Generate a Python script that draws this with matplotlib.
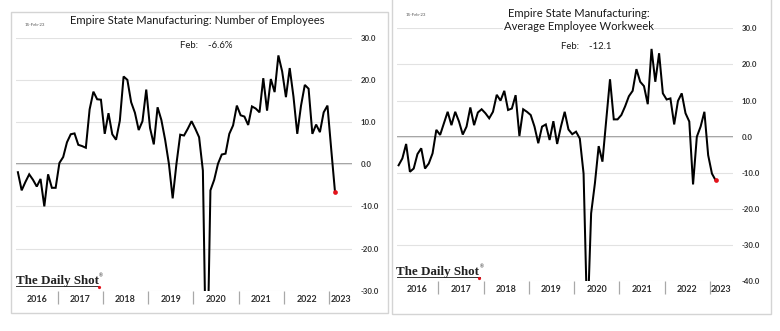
import numpy as np
import pandas as pd
import matplotlib
matplotlib.use("Agg")
import matplotlib.pyplot as plt
from matplotlib.lines import Line2D
from matplotlib.patches import Rectangle

# ---------------- data ----------------
dates = pd.date_range("2016-02-01", "2023-02-01", freq="MS")

employees = [
    -1.9, -6.2, -4.2, -2.4, -3.7, -5.3, -3.5, -10.0, -2.4, -5.6, -5.6,          # 2016 Feb-Dec
    0.3, 1.7, 5.2, 7.1, 7.3, 4.6, 4.3, 3.9, 13.0, 17.2, 15.4, 15.3,              # 2017
    7.2, 12.1, 7.1, 5.8, 10.3, 20.8, 20.0, 14.7, 12.2, 8.1, 10.2, 17.7,          # 2018
    8.6, 4.7, 13.5, 10.5, 5.8, 0.1, -8.1, 0.1, 7.0, 6.8, 8.4, 10.2,              # 2019
    8.4, 6.4, -1.5, -55.8, -6.2, -3.7, 0.1, 2.3, 2.5, 7.2, 9.2, 13.9,            # 2020
    11.6, 11.3, 9.3, 13.7, 13.2, 12.3, 20.4, 12.7, 20.2, 17.1, 25.8, 22.0,       # 2021
    15.9, 22.8, 16.0, 7.2, 13.9, 18.8, 17.9, 7.2, 9.4, 7.6, 12.3, 13.9,          # 2022
    3.5, -6.6,                                                                    # 2023
]

workweek = [
    -7.9, -6.0, -2.0, -9.7, -8.8, -4.8, -3.2, -8.8, -7.4, -4.6, 1.9,             # 2016 Feb-Dec
    0.5, 3.7, 6.9, 3.2, 6.9, 4.2, 0.6, 2.8, 8.1, 3.2, 6.7, 7.6,                  # 2017
    6.5, 5.1, 6.9, 11.6, 10.0, 12.7, 7.4, 7.8, 11.5, 0.2, 7.6, 6.9,              # 2018
    6.0, 2.8, -1.8, 2.8, 3.4, -0.9, 4.3, -2.0, 2.8, 6.9, 2.0, 0.7,               # 2019
    1.4, -0.5, -10.2, -52.6, -21.2, -12.9, -2.6, -6.9, 4.6, 15.9, 4.8, 4.8,      # 2020
    6.0, 8.4, 11.2, 12.7, 18.7, 15.2, 14.0, 9.0, 24.3, 15.2, 23.1, 12.0,         # 2021
    10.3, 10.6, 3.4, 9.9, 12.0, 6.5, 4.2, -13.2, 0.0, 2.8, 6.9, -5.1,            # 2022
    -10.2, -12.1,                                                                 # 2023
]

year_labels = ["2016", "2017", "2018", "2019", "2020", "2021", "2022", "2023"]
left_yticks = [-30, -20, -10, 0, 10, 20, 30]
right_yticks = [-40, -30, -20, -10, 0, 10, 20, 30]

left_title = "Empire State Manufacturing: Number of Employees"
right_title = "Empire State Manufacturing:\nAverage Employee Workweek"
left_note = "Feb:    -6.6%"
right_note = "Feb:    -12.1"
date_stamp = "15-Feb-23"
logo_text = "The Daily Shot"

# ---------------- layout helpers ----------------
W, H = 780, 331
SANS = ["Lato", "DejaVu Sans"]
SERIF = ["Liberation Serif", "DejaVu Serif"]

fig = plt.figure(figsize=(W / 100, H / 100), dpi=100)
fig.patch.set_facecolor("white")


def fx(x):
    return x / W


def fy(y):
    return 1 - y / H


# month position: index of month since Jan 2016, centered in its slot
xpos = np.array([(d.year - 2016) * 12 + (d.month - 1) + 0.5 for d in dates])
year_start = np.array([(int(y) - 2016) * 12 for y in year_labels])
seg_lo = np.maximum(year_start, 1)
seg_hi = np.minimum(year_start + 12, 90)
year_centers = (seg_lo + seg_hi) / 2.0


def make_panel(frame, axbox, ylim, yticks, values, ypad):
    x0, y0, x1, y1 = frame
    fig.patches.append(Rectangle((fx(x0), fy(y1)), (x1 - x0) / W, (y1 - y0) / H,
                                 transform=fig.transFigure, fill=False,
                                 edgecolor="#d4d4d4", lw=1.0, zorder=0))
    a0, t0, a1, b0 = axbox
    ax = fig.add_axes([fx(a0), fy(b0), (a1 - a0) / W, (b0 - t0) / H])
    ax.set_facecolor("none")
    for s in ax.spines.values():
        s.set_visible(False)
    ax.set_xlim(1, 90)
    ax.set_ylim(*ylim)
    ax.set_yticks(yticks)
    ax.set_yticklabels([f"{v:.1f}" for v in yticks])
    ax.yaxis.tick_right()
    ax.tick_params(axis="y", length=0, pad=ypad, labelsize=5.6, labelcolor="#333333")
    for lab in ax.get_yticklabels():
        lab.set_fontweight("bold")
        lab.set_family(SANS)
    ax.grid(axis="y", color="#e2e2e2", lw=0.8, zorder=0)
    ax.axhline(0, color="#888888", lw=1.1, zorder=1)
    # x axis: separators at year boundaries, labels centered in segments
    ax.set_xticks(year_start[1:])
    ax.set_xticklabels([])
    ax.tick_params(axis="x", which="major", direction="out", length=9.5,
                   width=0.9, color="#a8a8a8")
    ax.set_xticks(year_centers, minor=True)
    ax.set_xticklabels(year_labels, minor=True)
    ax.tick_params(axis="x", which="minor", length=0, pad=3.0, labelsize=6.4,
                   labelcolor="#2e2e2e")
    for lab in ax.get_xticklabels(minor=True):
        lab.set_fontweight("bold")
        lab.set_family(SANS)
    ax.plot(xpos, values, color="black", lw=1.45, zorder=3, solid_joinstyle="miter")
    ax.plot(xpos[-1], values[-1], "o", color="#e3121b", ms=3.4, zorder=4,
            markeredgewidth=0, clip_on=False)
    return ax


axL = make_panel((11, 12, 388, 313), (16, 37.7, 352, 290.7), (-30, 30),
                 left_yticks, employees, 6.0)
axR = make_panel((392, -2, 771, 314), (396.7, 28.3, 732.7, 281.3), (-40, 30),
                 right_yticks, workweek, 6.5)

# ---------------- texts ----------------
fig.text(fx(197.5), fy(21), left_title, ha="center", va="center", fontsize=8.1,
         family=SANS, color="#1a1a1a",
         bbox=dict(facecolor="white", edgecolor="none", pad=0.5))
fig.text(fx(578.5), fy(20), right_title, ha="center", va="center", fontsize=8.1,
         family=SANS, color="#1a1a1a", linespacing=1.3,
         bbox=dict(facecolor="white", edgecolor="none", pad=0.5))
fig.text(fx(206), fy(45), left_note, ha="center", va="center", fontsize=6.9,
         family=SANS, color="#1a1a1a")
fig.text(fx(586), fy(46.5), right_note, ha="center", va="center", fontsize=6.9,
         family=SANS, color="#1a1a1a")
fig.text(fx(35), fy(24.5), date_stamp, ha="center", va="center", fontsize=3.2,
         family=SANS, color="#555555")
fig.text(fx(416), fy(15), date_stamp, ha="center", va="center", fontsize=3.2,
         family=SANS, color="#555555")

# logos: fit "The Daily Shot" into ~83 px
logo_items = []
for (lx, ly) in [(16, 284.3), (396.5, 275)]:
    t = fig.text(fx(lx), fy(ly), logo_text, ha="left", va="baseline", fontsize=9.0,
                 family=SERIF, color="#222222", fontweight="bold")
    logo_items.append((t, lx, ly))

fig.canvas.draw()
r = fig.canvas.get_renderer()
for t, lx, ly in logo_items:
    bb = t.get_window_extent(r)
    t.set_fontsize(9.0 * 83.0 / bb.width)
fig.canvas.draw()
for t, lx, ly in logo_items:
    bb = t.get_window_extent(r)
    fig.text((bb.x1 + 0.3) / W, fy(ly - 7), "\u00ae", ha="left", va="baseline",
             fontsize=3.5, family=SANS, color="#333333")
    uy = fy(ly + 1.8)
    fig.lines.append(Line2D([bb.x0 / W, bb.x1 / W], [uy, uy], transform=fig.transFigure,
                            color="#333333", lw=0.7))
    fig.lines.append(Line2D([(bb.x1 - 0.5) / W], [fy(ly + 2.6)], transform=fig.transFigure,
                            marker="o", ms=2.3, color="#e3121b", markeredgewidth=0))

fig.savefig("out.png", dpi=100, facecolor="white")
